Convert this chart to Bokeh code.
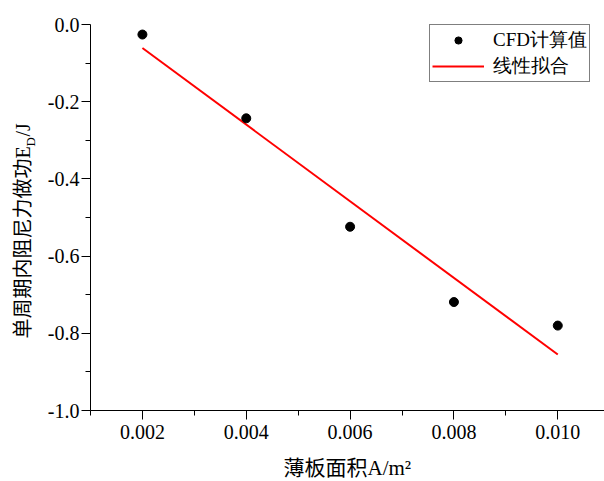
import math
from bokeh.plotting import figure
from bokeh.layouts import column, row
from bokeh.models import FixedTicker, Range1d, Legend, LegendItem
from bokeh.core.properties import value
from bokeh.embed import file_html
from bokeh.resources import INLINE

# ---- data ----
area = [0.002, 0.004, 0.006, 0.008, 0.010]
cfd_work = [-0.026, -0.243, -0.524, -0.719, -0.780]
fit_x = [0.002, 0.010]
fit_y = [-0.061, -0.855]
x_ticks = [0.002, 0.004, 0.006, 0.008, 0.010]
x_tick_labels = ["0.002", "0.004", "0.006", "0.008", "0.010"]
x_minor = [0.001, 0.003, 0.005, 0.007, 0.009, 0.011]
y_ticks = [-1.0, -0.8, -0.6, -0.4, -0.2, 0.0]
y_tick_labels = ["-1.0", "-0.8", "-0.6", "-0.4", "-0.2", "0.0"]
y_minor = [-0.9, -0.7, -0.5, -0.3, -0.1]
series_names = ["CFD计算值", "线性拟合"]
x_title = "薄板面积A/m²"
y_title = ["单周期内阻尼力做功E", "D", "/J"]

SERIF = "'Liberation Serif', 'Noto Sans CJK SC'"

# ---- main plot ----
p = figure(width=560, height=448, title=None,
           x_range=Range1d(0.001, 0.0109), y_range=Range1d(-1.0, 0.0),
           output_backend="svg", toolbar_location=None,
           min_border_left=44, min_border_right=0,
           min_border_top=24, min_border_bottom=38)
p.frame_align = False
p.outline_line_color = None
p.grid.visible = False
p.background_fill_color = "white"
p.border_fill_color = "white"

for ax in (p.xaxis[0], p.yaxis[0]):
    ax.axis_line_color = "black"
    ax.axis_line_width = 1
    ax.major_tick_line_color = "black"
    ax.minor_tick_line_color = "black"
    ax.major_tick_in = 0
    ax.major_tick_out = 9
    ax.minor_tick_in = 0
    ax.minor_tick_out = 5
    ax.major_label_text_font = "Liberation Serif"
    ax.major_label_text_font_size = "20px"
    ax.major_label_text_color = "black"

p.xaxis.ticker = FixedTicker(ticks=x_ticks, minor_ticks=x_minor)
p.xaxis.major_label_overrides = {v: s for v, s in zip(x_ticks, x_tick_labels)}
p.xaxis.major_label_standoff = 5
p.yaxis.ticker = FixedTicker(ticks=y_ticks, minor_ticks=y_minor)
p.yaxis.major_label_overrides = {v: s for v, s in zip(y_ticks, y_tick_labels)}
p.yaxis.major_label_standoff = 2

ln = p.line(fit_x, fit_y, line_color="red", line_width=2)
sc = p.scatter(area, cfd_work, size=9, fill_color="black", line_color="black")

legend = Legend(items=[LegendItem(label=series_names[0], renderers=[sc]),
                       LegendItem(label=series_names[1], renderers=[ln])],
                location=(339, 328))
legend.margin = 0
legend.padding = 2
legend.spacing = -1
legend.glyph_width = 52
legend.glyph_height = 18
legend.label_height = 18
legend.label_standoff = 9
legend.label_text_font = "Liberation Serif"
legend.label_text_font_size = "19px"
legend.label_text_color = "black"
legend.border_line_color = "black"
legend.border_line_width = 1
legend.background_fill_color = "white"
legend.background_fill_alpha = 1
p.add_layout(legend)

# ---- y title panel (with subscript) ----
yt = figure(width=44, height=448, title=None, x_range=Range1d(0, 44), y_range=Range1d(0, 448),
            x_axis_type=None, y_axis_type=None, min_border=0,
            output_backend="svg", toolbar_location=None)
yt.frame_align = False
yt.outline_line_color = None
yt.grid.visible = False
yt.text(x=[22], y=[110], text=[y_title[0]], angle=math.pi / 2,
        text_align="left", text_baseline="middle",
        text_font=value(SERIF), text_font_size="20px", text_color="black")
yt.text(x=[30], y=[302], text=[y_title[1]], angle=math.pi / 2,
        text_align="left", text_baseline="middle",
        text_font=value(SERIF), text_font_size="13px", text_color="black")
yt.text(x=[22], y=[312], text=[y_title[2]], angle=math.pi / 2,
        text_align="left", text_baseline="middle",
        text_font=value(SERIF), text_font_size="20px", text_color="black")

# ---- x title panel ----
xt = figure(width=604, height=33, title=None, x_range=Range1d(0, 604), y_range=Range1d(0, 33),
            x_axis_type=None, y_axis_type=None, min_border=0,
            output_backend="svg", toolbar_location=None)
xt.frame_align = False
xt.outline_line_color = None
xt.grid.visible = False
xt.text(x=[283], y=[14], text=[x_title], text_align="left", text_baseline="middle",
        text_font=value(SERIF), text_font_size="21px", text_color="black")

layout = column(row(yt, p, spacing=0), xt, spacing=0)
open("out.html", "w").write(file_html(layout, INLINE))
